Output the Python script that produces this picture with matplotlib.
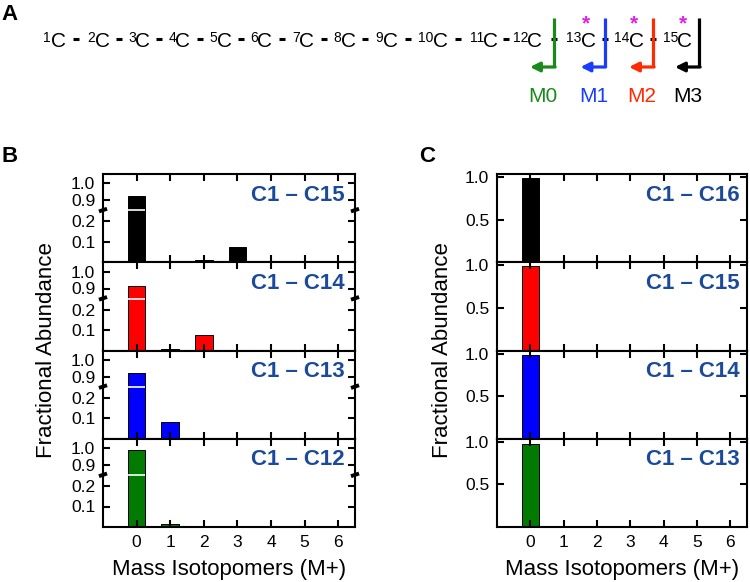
import numpy as np
import matplotlib.pyplot as plt

plt.rcParams['font.family'] = ['Liberation Sans', 'DejaVu Sans']

W, H = 750, 582

# x categories (mass isotopomers M+0 .. M+6)
isotopomers = [0, 1, 2, 3, 4, 5, 6]

# panel B: fragments with broken y axis
b_labels = ['C1 – C15', 'C1 – C14', 'C1 – C13', 'C1 – C12']
b_c15 = [0.925, 0.0, 0.011, 0.074, 0.0, 0.0, 0.0]
b_c14 = [0.916, 0.008, 0.076, 0.002, 0.0, 0.0, 0.0]
b_c13 = [0.925, 0.080, 0.0, 0.0, 0.0, 0.0, 0.0]
b_c12 = [0.988, 0.013, 0.002, 0.003, 0.0, 0.0, 0.0]

# panel C: fragments with plain y axis
c_labels = ['C1 – C16', 'C1 – C15', 'C1 – C14', 'C1 – C13']
c_c16 = [0.995, 0.0, 0.0, 0.0, 0.0, 0.0, 0.0]
c_c15 = [0.994, 0.0, 0.0, 0.0, 0.0, 0.0, 0.0]
c_c14 = [0.990, 0.0, 0.0, 0.0, 0.0, 0.0, 0.0]
c_c13 = [0.977, 0.004, 0.0, 0.0, 0.0, 0.0, 0.0]

row_colors = ['black', '#ff0000', '#0000ff', '#007a00']
label_blue = '#1b4a9a'

# panel A labels
m_labels = ['M0', 'M1', 'M2', 'M3']
m_colors = ['#1a8a1a', '#1a3cff', '#ff2a00', 'black']


def squash(v):
    # broken axis: 0-0.25 stretched, 0.85-1.05 on top
    v = np.asarray(v, float)
    return np.where(v < 0.5, v * 205, 62 + (v - 0.9) * 170)


fig = plt.figure(figsize=(W / 100, H / 100), dpi=100)


def px_axes(left, top, width, height):
    return fig.add_axes([left / W, 1 - (top + height) / H, width / W, height / H])


def style(ax, show_x):
    ax.set_xlim(-1, 6.5)
    ax.set_xticks(isotopomers)
    ax.tick_params(direction='in', top=True, right=True, length=5, width=1.5,
                   labelsize=12.5, pad=5.5)
    ax.tick_params(axis='x', labelbottom=show_x, pad=6)
    for s in ax.spines.values():
        s.set_linewidth(1.5)


row_h = 88.25
brk = 52
for i, vals in enumerate([b_c15, b_c14, b_c13, b_c12]):
    ax = px_axes(103, 174 + i * row_h, 252, row_h)
    t = squash(vals)
    ax.bar(isotopomers, t, width=0.52, color=row_colors[i], edgecolor='black', linewidth=0.7)
    for x, v in zip(isotopomers, vals):
        if v > 0.5:
            ax.hlines(brk, x - 0.25, x + 0.25, color='white', lw=1.2, zorder=3)
    ax.set_ylim(0, row_h)
    ax.set_yticks(squash([0.1, 0.2, 0.9, 1.0]))
    ax.set_yticklabels(['0.1', '0.2', '0.9', '1.0'])
    style(ax, i == 3)
    tr = ax.get_yaxis_transform()
    for xs in (0, 1):
        ax.plot([xs - 0.016, xs + 0.016], [brk - 1.2, brk + 1.5], color='black', lw=2.8,
                transform=tr, clip_on=False, solid_capstyle='butt', zorder=5)
    ax.text(0.96, 0.762, b_labels[i], transform=ax.transAxes, ha='right', va='center',
            fontsize=16, fontweight='bold', color=label_blue)

for i, vals in enumerate([c_c16, c_c15, c_c14, c_c13]):
    ax = px_axes(497, 174 + i * row_h, 250, row_h)
    ax.bar(isotopomers, vals, width=0.52, color=row_colors[i], edgecolor='black', linewidth=0.7)
    ax.set_ylim(0, 1.038)
    ax.set_yticks([0.5, 1.0])
    ax.set_yticklabels(['0.5', '1.0'])
    style(ax, i == 3)
    ax.text(0.972, 0.762, c_labels[i], transform=ax.transAxes, ha='right', va='center',
            fontsize=16, fontweight='bold', color=label_blue)

fig.text(47 / W, 1 - 350 / H, 'Fractional Abundance', rotation=90, ha='center', va='center', fontsize=16)
fig.text(442 / W, 1 - 350 / H, 'Fractional Abundance', rotation=90, ha='center', va='center', fontsize=16)
fig.text(229 / W, 1 - 570 / H, 'Mass Isotopomers (M+)', ha='center', va='center', fontsize=16)
fig.text(622 / W, 1 - 570 / H, 'Mass Isotopomers (M+)', ha='center', va='center', fontsize=16)

# overlay in pixel coordinates for the scheme and panel letters
ov = fig.add_axes([0, 0, 1, 1])
ov.set_xlim(0, W)
ov.set_ylim(H, 0)
ov.axis('off')

for lab, x, y in [('A', 10, 14), ('B', 10, 157), ('C', 427, 157)]:
    ov.text(x, y, lab, ha='center', va='center', fontsize=16, fontweight='bold')

c_x = [58, 102, 143, 183, 224, 265, 307, 348, 390, 440, 491, 535, 588, 636, 685]
for n, x in enumerate(c_x, start=1):
    ov.text(x, 47, 'C', ha='center', va='baseline', fontsize=15)
    ov.text(x - 7, 42, str(n), ha='right', va='baseline', fontsize=10)

dash_x = []
for n in range(len(c_x) - 1):
    sup_w = 7.5 * len(str(n + 2))
    dash_x.append(((c_x[n] + 7) + (c_x[n + 1] - 7 - sup_w)) / 2)
for x in dash_x:
    ov.plot([x - 3, x + 3], [38.5, 38.5], color='black', lw=2.2, solid_capstyle='butt')

for x in c_x[12:]:
    ov.text(x - 2, 29, '*', ha='center', va='baseline', fontsize=15, fontweight='bold', color='#e020e8')

cut_x = dash_x[11:] + [c_x[-1] + 14]
for x, lab, col in zip(cut_x, m_labels, m_colors):
    ov.plot([x, x], [18, 67], color=col, lw=2.3, solid_capstyle='butt')
    ov.annotate('', xy=(x - 24, 67), xytext=(x + 1.1, 67),
                arrowprops=dict(arrowstyle='-|>', lw=2.3, color=col, mutation_scale=14,
                                shrinkA=0, shrinkB=0))
    ov.text(x - 11, 96, lab, ha='center', va='center', fontsize=15, color=col)

fig.savefig('out.png', dpi=100)
